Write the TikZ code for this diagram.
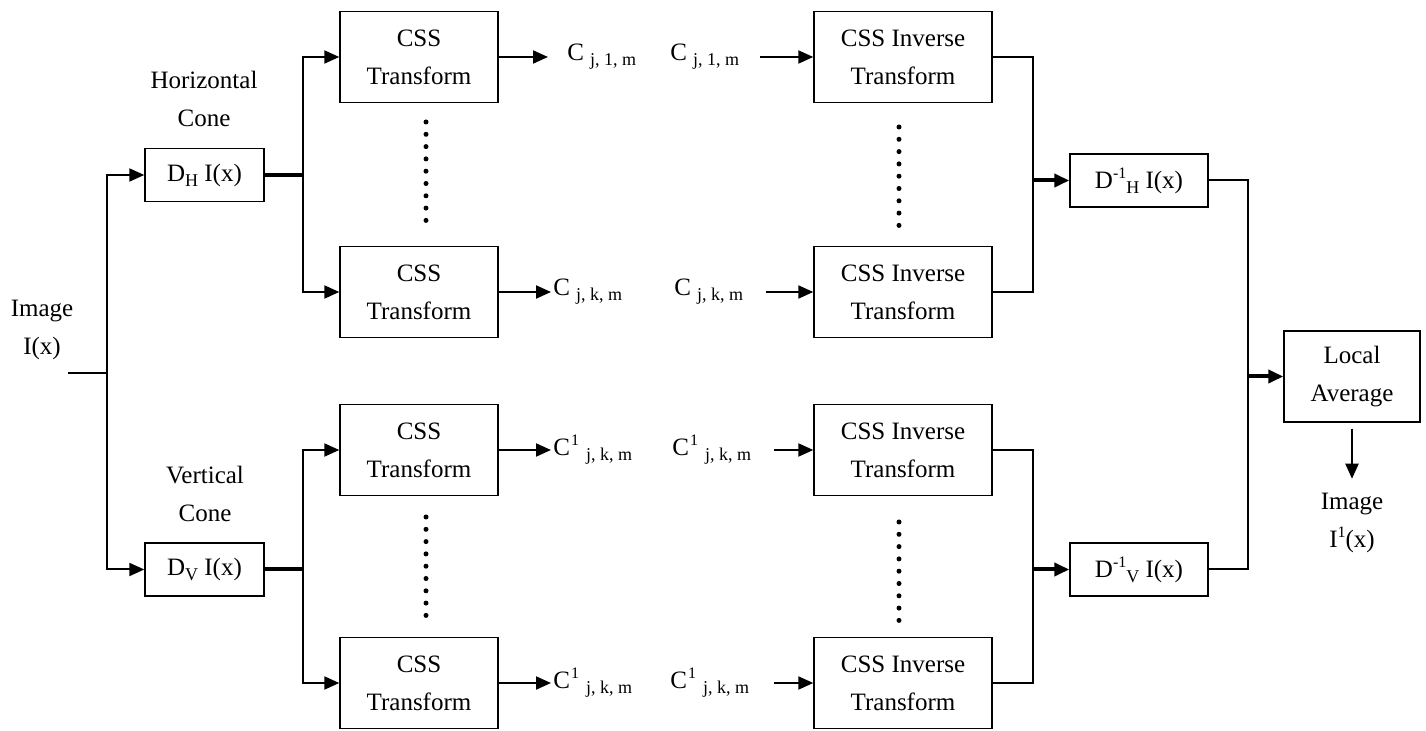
\documentclass[tikz,border=0pt]{standalone}
\usepackage{fontspec}
\setmainfont{Liberation Serif}
\usetikzlibrary{positioning, arrows.meta, calc}
\newcommand{\csub}[1]{\raisebox{-2.5pt}{\fontsize{9}{9}\selectfont #1}}
\newcommand{\csup}[1]{\raisebox{5pt}{\fontsize{8}{8}\selectfont #1}}

\begin{document}
\begin{tikzpicture}[x=0.5pt, y=-0.5pt, font=\fontsize{12.5}{19}\selectfont,
  blk/.style={draw, line width=0.7pt, inner sep=0pt, align=center},
  small/.style={blk, minimum width=59.5pt, minimum height=26.5pt},
  css/.style={blk, minimum width=79pt, minimum height=45.5pt},
  inv/.style={blk, minimum width=89pt, minimum height=45.5pt},
  txt/.style={align=center, inner sep=0pt},
  coef/.style={anchor=west, inner sep=0pt},
  wire/.style={line width=1pt},
  fat/.style={line width=2pt},
  arr/.style={-{Triangle[length=7.5pt, width=6.5pt]}}]
  \useasboundingbox (0,0) rectangle (1426,731);

  % input and cones
  \node[txt] (img) at (42,330) {Image\\I(x)};
  \node[txt] (hcone) at (204,99) {Horizontal\\Cone};
  \node[txt] (vcone) at (205,494) {Vertical\\Cone};
  \node[small] (dh) at (204.5,175) {D\csub{H} I(x)};
  \node[small] (dv) at (204.5,569.5) {D\csub{V} I(x)};

  % forward transforms
  \node[css] (ct1) at (419,57) {CSS\\Transform};
  \node[css] (ct2) at (419,292) {CSS\\Transform};
  \node[css] (ct3) at (419,450) {CSS\\Transform};
  \node[css] (ct4) at (419,683) {CSS\\Transform};

  % coefficients
  \node[coef] (c1a) at (567,57) {C\hspace{3pt}\csub{j, 1, m}};
  \node[coef] (c1b) at (670,57) {C\hspace{3pt}\csub{j, 1, m}};
  \node[coef] (c2a) at (553,292) {C\hspace{3pt}\csub{j, k, m}};
  \node[coef] (c2b) at (674,292) {C\hspace{3pt}\csub{j, k, m}};
  \node[coef] (c3a) at (553,450) {C\hspace{0.5pt}\csup{1}\hspace{3.5pt}\csub{j, k, m}};
  \node[coef] (c3b) at (672,450) {C\hspace{0.5pt}\csup{1}\hspace{3.5pt}\csub{j, k, m}};
  \node[coef] (c4a) at (553,683) {C\hspace{0.5pt}\csup{1}\hspace{3.5pt}\csub{j, k, m}};
  \node[coef] (c4b) at (670,683) {C\hspace{0.5pt}\csup{1}\hspace{3.5pt}\csub{j, k, m}};

  % inverse transforms
  \node[inv] (ci1) at (903,57) {CSS Inverse\\Transform};
  \node[inv] (ci2) at (903,292) {CSS Inverse\\Transform};
  \node[inv] (ci3) at (903,450) {CSS Inverse\\Transform};
  \node[inv] (ci4) at (903,683) {CSS Inverse\\Transform};

  \node[small, minimum width=69pt] (dhi) at (1139,180.5) {D\csup{-1}\csub{H} I(x)};
  \node[small, minimum width=69pt] (dvi) at (1139,569.5) {D\csup{-1}\csub{V} I(x)};
  \node[css, minimum width=68pt] (la) at (1352,376.5) {Local\\Average};
  \node[txt] (out) at (1352,523) {Image\\I\csup{1}(x)};

  \coordinate (in) at (68,373);
  \coordinate (split) at (107,373);
  \coordinate (hjoin) at (1033,180.5);
  \coordinate (vjoin) at (1033,569.5);
  \coordinate (ojoin) at (1248,376.5);

  % dots
  \foreach \x/\ya in {426/122, 899/127, 426/517, 899/522}
    \foreach \i in {0,...,8}
      \fill (\x,\ya+12.3*\i) circle (1.25pt);

  \draw[wire] (in) -- (split);
  \draw[wire, arr] (split) |- (dh.west);
  \draw[wire, arr] (split) |- (dv.west);

  \draw[fat] (dh.east) -- ++(38,0) coordinate (hfork);
  \draw[fat] (dv.east) -- ++(38,0) coordinate (vfork);
  \draw[wire, arr] (hfork) |- (ct1.west);
  \draw[wire, arr] (hfork) |- (ct2.west);
  \draw[wire, arr] (vfork) |- (ct3.west);
  \draw[wire, arr] (vfork) |- (ct4.west);

  \draw[wire, arr, shorten >=9.5pt] (ct1.east) -- (c1a.west);
  \draw[wire, arr, shorten >=1pt] (ct2.east) -- (c2a.west);
  \draw[wire, arr, shorten >=1pt] (ct3.east) -- (c3a.west);
  \draw[wire, arr, shorten >=1pt] (ct4.east) -- (c4a.west);
  \draw[wire, arr, shorten <=10.5pt] (c1b.east) -- (ci1.west);
  \draw[wire, arr, shorten <=11.5pt] (c2b.east) -- (ci2.west);
  \draw[wire, arr, shorten <=11.5pt] (c3b.east) -- (ci3.west);
  \draw[wire, arr, shorten <=12.5pt] (c4b.east) -- (ci4.west);

  \draw[wire] (ci1.east) -| (hjoin);
  \draw[wire] (ci2.east) -| (hjoin);
  \draw[wire] (ci3.east) -| (vjoin);
  \draw[wire] (ci4.east) -| (vjoin);
  \draw[fat, arr] (hjoin) -- (dhi.west);
  \draw[fat, arr] (vjoin) -- (dvi.west);

  \draw[wire] (dhi.east) -| (ojoin);
  \draw[wire] (dvi.east) -| (ojoin);
  \draw[fat, arr] (ojoin) -- (la.west);
  \draw[wire, arr, shorten <=3pt, shorten >=7pt] (la.south) -- (out.north);
\end{tikzpicture}
\end{document}
